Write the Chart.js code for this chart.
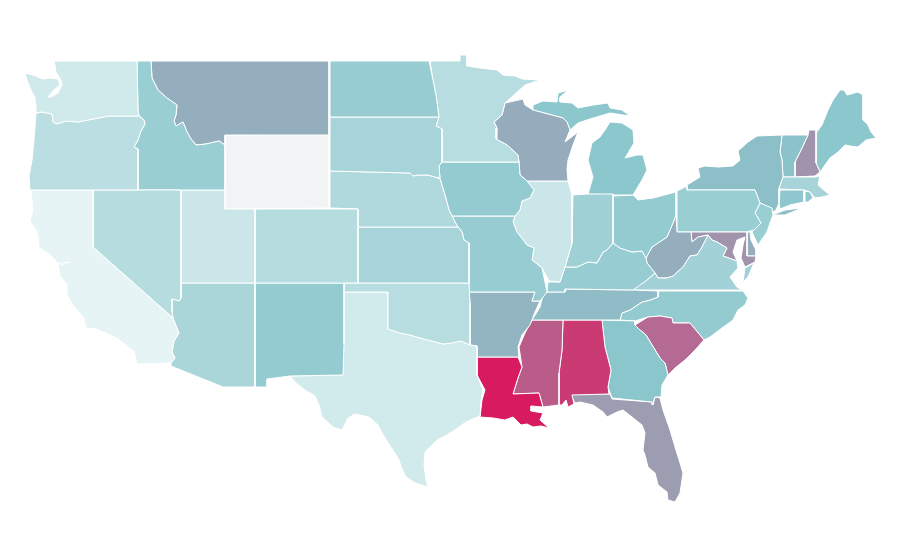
<!DOCTYPE html>
<html>
<head>
<meta charset="utf-8">
<style>html,body{margin:0;padding:0;background:#fff}canvas{display:block}</style>
<script src="https://cdn.jsdelivr.net/npm/chart.js@4"></script>
</head>
<body>
<canvas id="c" width="900" height="560"></canvas>
<script>
// Estimated choropleth values, read from each state's shade (null = no data)
const stateNames=["WA","OR","CA","NV","ID","UT","AZ","MT","WY","CO","NM","ND","SD","NE","KS","OK","TX","MN","IA","MO","AR","LA","WI","IL","IN","MI","MIU","OH","KY","TN","MS","AL","GA","FL","SC","NC","VA","VAE","WV","MD","DE","PA","NJ","NY","LI","CT","RI","MA","VT","NH","ME"];
const stateValues=[13,24,1,27,42,16,33,57,null,27,45,43,35,30,35,26,12,26,45,43,55,100,58,16,39,49,49,45,43,53,81,91,50,62,77,45,37,37,57,65,57,42,42,52,52,48,48,35,51,65,49];

// State outlines in map units (x, y pairs)
const WA=[54,61,137,61,138,110,139,116,109,116,93,119,78,122,66,121,57,124,53,122,52,114,42,112,36,113,36,107,35,98,30,88,26,77,25,73,33,75,43,79,50,78,58,79,60,85,54,90,48,97,51,97,58,93,62,85,61,80,56,72,55,66];
const OR=[36,113,42,112,52,114,53,122,57,124,66,121,78,122,93,119,109,116,139,116,144,120,145,124,141,131,138,140,134,147,138,149,138,157,138,190,30,190,29,176,32,160,34,140];
const CA=[31,190,93,190,93,247,173,318,176,326,179,333,174,341,172,352,175,358,171,363,137,364,134,352,126,345,118,339,108,334,96,329,86,328,84,318,74,307,67,295,67,284,60,276,58,265,60,263,70,262,62,265,57,262,50,255,39,247,38,235,35,228,30,222,33,210];
const NV=[93,190,181,190,181,298,179,301,176,300,172,299,172,312,173,318,93,247];
const ID=[137,61,151,61,152,78,158,90,167,98,177,105,176,115,174,121,176,126,183,122,187,132,191,139,196,145,206,144,219,141,225,145,225,190,138,190,138,157,138,149,134,147,138,140,141,131,145,124,144,120,139,116,138,110];
const UT=[181,190,225,190,225,209,255,209,255,283,181,283];
const AZ=[181,283,255,283,255,387,223,387,171,366,171,363,175,358,172,352,174,341,179,333,176,326,173,318,172,312,172,299,176,300,179,301,181,298];
const MT=[151,61,329,61,329,135,225,135,225,145,219,141,206,144,196,145,191,139,187,132,183,122,176,126,174,121,176,115,177,105,167,98,158,90,152,78];
const WY=[225,135,329,134,329,208,225,209];
const CO=[255,209,358,209,358,283,255,283];
const NM=[255,283,344,283,344,344,343,375,290,376,267,379,267,387,255,387];
const ND=[330,61,429,61,433,80,436,95,438,110,439,117,330,117];
const SD=[330,117,439,117,436,126,442,129,442,162,439,166,440,178,435,177,428,175,418,175,413,176,410,173,330,171];
const NE=[330,171,410,173,413,176,418,175,428,175,435,177,440,179,445,195,449,210,455,222,458,227,358,227,358,209,330,208];
const KS=[358,227,458,227,462,232,464,240,469,243,469,283,358,283];
const OK=[344,283,469,283,470,303,470,345,461,341,452,343,443,344,432,341,420,338,410,335,400,333,388,329,388,292,344,292];
const TX=[344,292,388,292,388,329,400,333,410,335,420,338,432,341,443,344,452,343,461,341,470,345,477,346,477,375,483,390,481,402,480,416,470,420,463,424,455,430,443,437,437,440,430,447,425,452,424,465,426,480,428,487,415,483,405,476,398,458,385,438,378,425,369,417,355,414,348,418,342,430,333,427,322,417,319,405,315,396,305,390,295,382,290,376,343,375];
const MN=[430,61,460,61,460,55,467,55,467,66,480,68,497,70,503,75,515,76,522,79,540,80,525,85,505,103,502,115,494,122,497,128,496,139,507,145,518,155,519,162,442,162,442,129,436,126,439,117,438,110,436,95,433,80];
const IA=[442,162,519,162,520,175,527,181,534,190,530,198,522,201,520,210,515,216,452,216,449,210,445,195,440,179,439,166];
const MO=[452,216,515,216,513,222,517,232,527,245,534,248,532,260,542,268,545,282,547,292,540,301,532,301,535,292,469,292,469,243,464,240,462,232,458,227,455,222];
const AR=[469,292,535,292,532,301,540,301,535,312,530,325,522,335,518,347,519,357,477,357,477,346,470,345,470,303];
const LA=[477,357,518,357,522,367,518,378,513,394,539,393,543,407,531,406,531,411,543,413,540,420,549,428,541,426,533,427,527,424,521,425,513,417,505,420,493,418,480,417,482,400,485,390,477,375];
const WI=[505,103,523,99,525,105,533,110,563,118,567,122,570,130,565,142,578,132,573,145,568,160,567,170,568,181,527,181,520,175,519,162,518,155,507,145,496,139,497,128,494,122,502,115];
const IL=[527,181,568,181,572,195,572,243,570,250,565,267,560,282,549,281,542,268,532,260,534,248,527,245,517,232,513,222,515,216,520,210,522,201,530,198,534,190];
const IN=[573,195,588,194,613,194,613,243,607,250,603,252,597,263,588,262,577,267,565,267,570,250,572,243];
const MI=[588,194,593,177,588,160,592,143,600,137,605,130,610,122,622,123,633,130,634,143,625,158,637,155,643,155,647,170,642,180,633,195,613,195];
const MIU=[533,105,543,101,557,102,558,93,568,90,560,97,560,102,572,103,578,108,593,105,608,103,610,108,622,110,630,116,610,113,590,119,578,123,570,130,567,122,563,118,533,110];
const OH=[613,196,633,195,638,200,653,198,676,192,676,215,673,223,667,237,652,247,646,258,642,251,632,252,620,248,613,243];
const KY=[548,282,560,282,565,267,577,267,588,262,597,263,603,252,607,250,613,243,620,248,632,252,642,251,646,258,647,263,655,273,647,280,633,290,565,289,565,292,547,292];
const TN=[547,292,565,292,565,289,633,290,658,291,658,297,650,300,642,302,630,310,622,313,620,320,532,320,540,307,543,295];
const MS=[532,320,563,320,562,350,559,373,559,405,543,407,539,393,513,394,518,378,522,367,519,347,525,333];
const AL=[563,320,602,320,605,347,611,370,608,387,609,394,572,395,574,404,568,407,566,400,562,405,559,405,559,373,562,350];
const GA=[602,320,635,321,635,325,640,330,646,335,660,358,665,363,668,375,662,385,661,397,655,397,652,405,652,402,612,398,608,387,611,370,605,347];
const FL=[572,394,610,394,612,399,652,402,653,405,655,397,660,398,663,410,670,430,675,447,680,463,683,473,680,493,675,502,668,500,667,492,658,485,655,473,648,467,645,455,643,450,645,433,642,425,632,417,623,410,617,412,607,417,603,412,593,405,580,402,575,403,572,397];
const SC=[635,325,648,317,660,316,672,318,673,323,690,323,704,340,695,350,685,360,675,368,668,375,665,363,660,358,646,335,640,330];
const NC=[658,291,743,291,748,298,745,305,738,310,733,320,722,328,710,337,704,340,690,323,673,323,672,318,660,316,648,317,635,321,620,320,622,313,630,310,642,302,650,300,658,297];
const VA=[630,290,647,280,655,273,658,278,667,278,673,276,683,267,690,256,697,255,702,247,708,235,712,240,717,242,727,248,723,256,737,261,738,268,730,277,737,287,742,290];
const VAE=[745,268,754,263,748,277,743,282];
const WV=[676,215,677,232,691,232,692,242,698,237,708,235,702,247,697,255,690,256,683,267,673,276,667,278,658,278,655,273,647,263,646,258,652,247,667,237,673,223];
const MD=[691,232,747,232,747,256,756,256,755,262,745,267,741,258,743,245,745,237,737,240,733,252,737,261,723,256,727,248,717,242,712,240,708,235,698,237,692,242];
const DE=[747,232,750,232,751,240,756,250,756,256,747,256];
const PA=[677,191,687,186,687,190,755,190,760,203,755,213,761,223,754,230,747,232,677,232];
const NJ=[760,203,772,208,773,215,770,223,767,232,758,245,752,232,761,223,755,213];
const NY=[687,190,687,185,700,177,698,168,705,166,718,167,733,166,740,160,738,151,748,142,757,136,782,135,780,152,782,160,783,177,779,188,779,203,776,210,773,212,770,208,760,203,755,190];
const LI=[772,215,785,210,802,208,785,215];
const CT=[780,190,804,190,804,202,790,205,780,209,779,203];
const RI=[805,191,810,192,813,198,808,202,805,202];
const MA=[783,177,815,177,820,176,818,185,825,191,830,195,822,197,815,198,810,192,804,190,779,189];
const VT=[782,135,808,135,802,148,795,162,795,177,783,177,782,160,780,152];
const NH=[809,130,816,130,816,163,820,172,815,176,795,177,795,162,802,148,808,135];
const ME=[816,133,822,125,828,110,833,100,840,90,844,90,847,95,858,92,863,95,863,120,868,125,871,132,876,138,866,140,858,147,850,146,845,145,838,152,830,158,825,165,820,172,816,163];

const outlines={WA,OR,CA,NV,ID,UT,AZ,MT,WY,CO,NM,ND,SD,NE,KS,OK,TX,MN,IA,MO,AR,LA,WI,IL,IN,MI,MIU,OH,KY,TN,MS,AL,GA,FL,SC,NC,VA,VAE,WV,MD,DE,PA,NJ,NY,LI,CT,RI,MA,VT,NH,ME};

const low=[232,245,246],mid=[138,198,204],high=[216,27,96],noData="#f2f3f5";
function shade(v){
  if(v===null) return noData;
  const a=v<=50?low:mid,b=v<=50?mid:high,t=v<=50?v/50:(v-50)/50;
  return "rgb("+a.map((c,i)=>Math.round(c+(b[i]-c)*t)).join(",")+")";
}
function ring(flat){
  const p=[];
  for(let i=0;i<flat.length;i+=2)p.push({x:flat[i],y:flat[i+1]});
  p.push({x:flat[0],y:flat[1]});
  return p;
}
new Chart(document.getElementById("c"),{
  type:"scatter",
  data:{datasets:stateNames.map((n,i)=>({
    label:n,
    data:ring(outlines[n]),
    showLine:true,
    fill:"shape",
    tension:0,
    backgroundColor:shade(stateValues[i]),
    borderColor:"#ffffff",
    borderWidth:1,
    pointRadius:0,
    pointHoverRadius:0,
    clip:false
  }))},
  options:{
    responsive:false,
    animation:false,
    layout:{padding:0},
    plugins:{legend:{display:false},tooltip:{enabled:false}},
    scales:{
      x:{type:"linear",min:0,max:900,display:false},
      y:{type:"linear",min:0,max:560,reverse:true,display:false}
    }
  }
});
</script>
</body>
</html>
